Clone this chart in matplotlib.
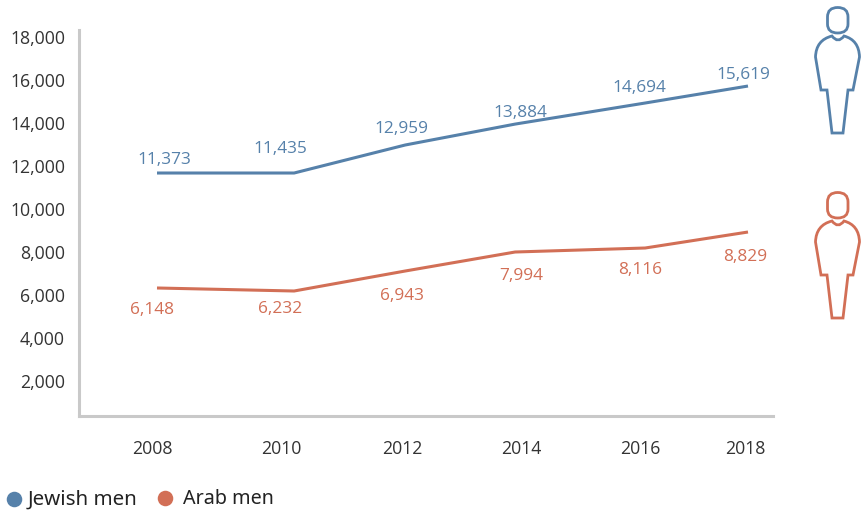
import matplotlib
matplotlib.use('Agg')
import matplotlib.pyplot as plt
from matplotlib.path import Path
from matplotlib.patches import PathPatch

plt.rcParams['font.family'] = ['Open Sans', 'DejaVu Sans']

# positions on the year scale (points and labels are not evenly spaced)
years = ['2008', '2010', '2012', '2014', '2016', '2018']
year_ticks = [2007.93, 2010.1, 2012.15, 2014.16, 2016.17, 2017.95]
line_x = [2008.0, 2010.32, 2012.2, 2014.06, 2016.26, 2018.0]

jewish_line = [11674, 11674, 12977, 13950, 14930, 15720]
arab_line = [6326, 6186, 7116, 8000, 8186, 8930]
jewish_labels = ['11,373', '11,435', '12,959', '13,884', '14,694', '15,619']
arab_labels = ['6,148', '6,232', '6,943', '7,994', '8,116', '8,829']

y_ticks = [2000, 4000, 6000, 8000, 10000, 12000, 14000, 16000, 18000]

# label offsets from the line, in pixels
jewish_offsets = [(7, 13), (-14, 24), (-4, 16), (5, 11), (-6, 15), (-5, 11)]
arab_offsets = [(-5, -22), (-14, -18), (-3, -25), (6, -24), (-5, -22), (-3, -25)]

BLUE = '#5681aa'
RED = '#d26f56'
W, H = 863, 516

fig = plt.figure(figsize=(W / 100, H / 100), dpi=100)
ax = fig.add_axes([79 / W, 1 - 416 / H, (773 - 79) / W, (416 - 30) / H])
ax.set_xlim(2008 + (79 - 157) / 59.1, 2008 + (773 - 157) / 59.1)
ax.set_ylim(372, 18326)

ax.plot(line_x, jewish_line, color=BLUE, lw=2.2, solid_joinstyle='round', solid_capstyle='butt')
ax.plot(line_x, arab_line, color=RED, lw=2.2, solid_joinstyle='round', solid_capstyle='butt')

for x, y, s, off in zip(line_x, jewish_line, jewish_labels, jewish_offsets):
    ax.annotate(s, (x, y), xytext=off, textcoords='offset pixels', ha='center', va='center',
                color=BLUE, fontsize=12.4)
for x, y, s, off in zip(line_x, arab_line, arab_labels, arab_offsets):
    ax.annotate(s, (x, y), xytext=off, textcoords='offset pixels', ha='center', va='center',
                color=RED, fontsize=12.4)

ax.set_xticks(year_ticks)
ax.set_xticklabels(years)
ax.set_yticks(y_ticks)
ax.set_yticklabels([f'{v:,}' for v in y_ticks])
ax.tick_params(axis='both', length=0, labelsize=12.7, labelcolor='#333333')
ax.tick_params(axis='x', pad=17)
ax.tick_params(axis='y', pad=10)
for side in ['top', 'right']:
    ax.spines[side].set_visible(False)
for side in ['left', 'bottom']:
    ax.spines[side].set_color('#c9c9c9')
    ax.spines[side].set_linewidth(2.2)

# overlay in pixel coordinates for the person icons and the legend
over = fig.add_axes([0, 0, 1, 1], zorder=5)
over.set_xlim(0, W)
over.set_ylim(H, 0)
over.axis('off')


def person(dy, color):
    M, L, C, Z = Path.MOVETO, Path.LINETO, Path.CURVE3, Path.CLOSEPOLY
    body = [(832, 36), (838, 44), (844, 36),
            (859, 40), (859.5, 57), (853, 90), (848, 90), (843, 133), (832, 133),
            (827, 90), (821, 90), (815.5, 57), (816, 40), (832, 36), (832, 36)]
    body_codes = [M, C, C, C, C, L, L, L, L, L, L, L, C, C, Z]
    head = [(837.7, 7.5), (848, 7.5), (848, 17), (848, 24), (848, 33), (837.7, 33),
            (827.5, 33), (827.5, 24), (827.5, 17), (827.5, 7.5), (837.7, 7.5), (837.7, 7.5)]
    head_codes = [M, C, C, L, C, C, C, C, L, C, C, Z]
    for pts, codes in [(body, body_codes), (head, head_codes)]:
        shifted = [(x, y + dy) for x, y in pts]
        over.add_patch(PathPatch(Path(shifted, codes), fc='none', ec=color, lw=2.0, joinstyle='miter'))


person(0, BLUE)
person(185, RED)

over.scatter([14], [499], s=125, color=BLUE, linewidths=0)
over.scatter([165], [498], s=125, color=RED, linewidths=0)
over.text(28, 500, 'Jewish men', fontsize=14.8, family='Noto Sans', color='#222222', va='center', ha='left')
over.text(183, 499, 'Arab men', fontsize=14.2, family='Noto Sans', color='#222222', va='center', ha='left')

fig.savefig('out.png', dpi=100)
